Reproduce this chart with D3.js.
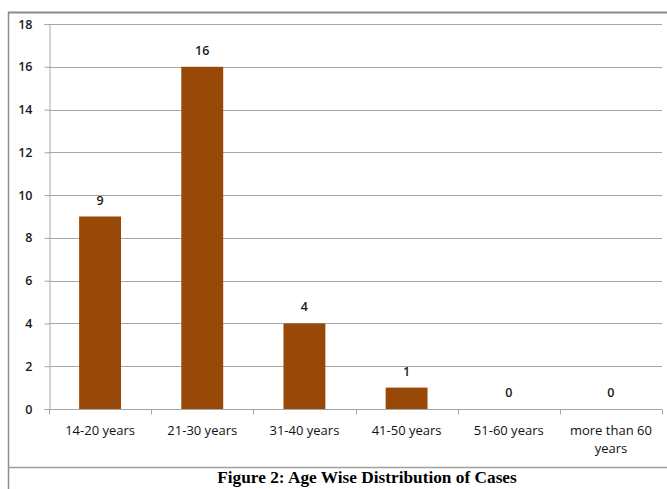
<!DOCTYPE html>
<html>
<head>
<meta charset="utf-8">
<script src="https://cdn.jsdelivr.net/npm/d3@7"></script>
<style>
  html, body { margin: 0; padding: 0; background: #fff; }
  svg { display: block; }
</style>
</head>
<body>
<svg id="chart" width="667" height="489"></svg>
<script>
// Age groups and number of cases
const categories = ["14-20 years", "21-30 years", "31-40 years", "41-50 years", "51-60 years", "more than 60 years"];
const cases = [9, 16, 4, 1, 0, 0];
const yTicks = [0, 2, 4, 6, 8, 10, 12, 14, 16, 18];
const caption = "Figure 2: Age Wise Distribution of Cases";

const svg = d3.select("#chart");
const W = 667, H = 489;
const plot = { left: 49, right: 662, top: 24, bottom: 409 };
const labelFont = "'Open Sans', 'Liberation Sans', sans-serif";

// Outer frame of the figure
svg.append("line").attr("x1", 8).attr("x2", W).attr("y1", 12.5).attr("y2", 12.5)
  .attr("stroke", "#8c8c8c").attr("stroke-width", 2);
svg.append("line").attr("x1", 8.5).attr("x2", 8.5).attr("y1", 12).attr("y2", H)
  .attr("stroke", "#8c8c8c").attr("stroke-width", 1.5);
svg.append("line").attr("x1", 8).attr("x2", W).attr("y1", 467.5).attr("y2", 467.5)
  .attr("stroke", "#a0a0a0").attr("stroke-width", 1.5);

const x = d3.scaleBand().domain(categories).range([plot.left, plot.right]).paddingInner(0.59).paddingOuter(0.295);
const xb = d3.scaleBand().domain(categories).range([plot.left, plot.right]);
const y = d3.scaleLinear().domain([0, 18]).range([plot.bottom, plot.top]);

// Horizontal gridlines
svg.append("g").selectAll("line").data(yTicks.filter(t => t > 0)).join("line")
  .attr("x1", plot.left).attr("x2", plot.right)
  .attr("y1", d => Math.round(y(d)) + 0.5).attr("y2", d => Math.round(y(d)) + 0.5)
  .attr("stroke", "#a6a6a6").attr("stroke-width", 1);

// Y axis
const yAxis = svg.append("g").attr("transform", `translate(${plot.left + 0.5},0)`)
  .call(d3.axisLeft(y).tickValues(yTicks).tickSize(5).tickPadding(12).tickFormat(d3.format("d")));
yAxis.select(".domain").attr("stroke", "#a6a6a6");
yAxis.selectAll(".tick line").attr("stroke", "#a6a6a6");
yAxis.selectAll(".tick text").attr("font-family", labelFont).attr("font-size", 12.5)
  .attr("font-weight", 600).attr("fill", "#1a1a1a");

// X axis with ticks at category boundaries
const xAxisY = Math.round(y(0)) + 0.5;
svg.append("line").attr("x1", plot.left).attr("x2", plot.right).attr("y1", xAxisY).attr("y2", xAxisY)
  .attr("stroke", "#a6a6a6");
const bounds = categories.map(c => xb(c)).concat([plot.right]);
svg.append("g").selectAll("line").data(bounds).join("line")
  .attr("x1", d => Math.round(d) + 0.5).attr("x2", d => Math.round(d) + 0.5)
  .attr("y1", xAxisY).attr("y2", xAxisY + 5).attr("stroke", "#a6a6a6");

// Category labels (wrapped when long)
const xl = svg.append("g");
categories.forEach(c => {
  const lines = c === "more than 60 years" ? ["more than 60", "years"] : [c];
  const t = xl.append("text").attr("x", xb(c) + xb.bandwidth() / 2).attr("y", 435)
    .attr("text-anchor", "middle").attr("font-family", labelFont).attr("font-size", 13)
    .attr("font-weight", 500).attr("fill", "#111");
  lines.forEach((l, i) => t.append("tspan").attr("x", xb(c) + xb.bandwidth() / 2).attr("dy", i === 0 ? 0 : 18).text(l));
});

// Bars
svg.append("g").selectAll("rect").data(categories).join("rect")
  .attr("x", d => x(d)).attr("width", x.bandwidth())
  .attr("y", (d, i) => y(cases[i])).attr("height", (d, i) => y(0) - y(cases[i]))
  .attr("fill", "#984807");

// Value labels
svg.append("g").selectAll("text").data(categories).join("text")
  .attr("x", d => x(d) + x.bandwidth() / 2).attr("y", (d, i) => y(cases[i]) - 12)
  .attr("text-anchor", "middle").attr("font-family", labelFont).attr("font-size", 12.5)
  .attr("font-weight", 600).attr("fill", "#1a1a1a")
  .text((d, i) => cases[i]);

// Caption
svg.append("text").attr("x", 367).attr("y", 483).attr("text-anchor", "middle")
  .attr("font-family", "'Liberation Serif', 'Times New Roman', serif").attr("font-weight", "bold")
  .attr("font-size", 17.3).attr("fill", "#000").text(caption);
</script>
</body>
</html>
